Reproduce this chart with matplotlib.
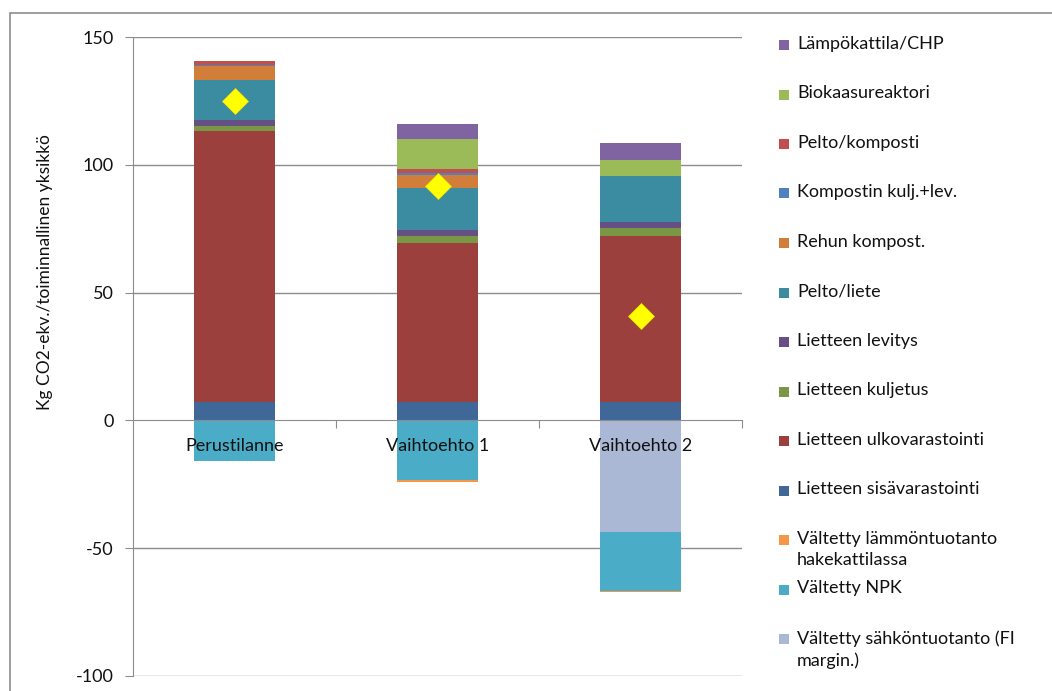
import numpy as np
import matplotlib
matplotlib.use("Agg")
import matplotlib.pyplot as plt
from matplotlib.patches import Rectangle

plt.rcParams['font.family'] = ['Lato', 'DejaVu Sans']
plt.rcParams['axes.unicode_minus'] = False

categories = ["Perustilanne", "Vaihtoehto 1", "Vaihtoehto 2"]

# series in stacking order (first = closest to zero)
series_names = [
    "Vältetty sähköntuotanto (FI\nmargin.)",
    "Vältetty NPK",
    "Vältetty lämmöntuotanto\nhakekattilassa",
    "Lietteen sisävarastointi",
    "Lietteen ulkovarastointi",
    "Lietteen kuljetus",
    "Lietteen levitys",
    "Pelto/liete",
    "Rehun kompost.",
    "Kompostin kulj.+lev.",
    "Pelto/komposti",
    "Biokaasureaktori",
    "Lämpökattila/CHP",
]
series_values = [
    [0.0, 0.0, -43.5],
    [-16.0, -23.3, -23.3],
    [0.0, -0.7, -0.5],
    [7.1, 7.1, 7.1],
    [106.0, 62.2, 65.1],
    [1.9, 3.0, 2.9],
    [2.6, 2.1, 2.4],
    [15.7, 16.6, 18.3],
    [5.5, 5.1, 0.0],
    [0.4, 0.6, 0.0],
    [1.5, 1.7, 0.0],
    [0.0, 11.7, 5.9],
    [0.0, 5.7, 6.7],
]
series_colors = [
    "#AAB8D6", "#4AACC6", "#F79646", "#3F6797", "#9B403D", "#7A9745",
    "#664F82", "#3B8BA1", "#D07E3A", "#4F81BD", "#C0504D", "#9BBB59", "#8064A2",
]
net_total = [125.1, 91.8, 40.8]

fig = plt.figure(figsize=(10.52, 6.91), dpi=100)
ax = fig.add_axes([133 / 1052, 1 - 676 / 691, (742 - 133) / 1052, (676 - 37) / 691])

x = np.arange(len(categories))
pos_base = np.zeros(len(categories))
neg_base = np.zeros(len(categories))
for name, vals, col in zip(series_names, series_values, series_colors):
    v = np.array(vals)
    base = np.where(v >= 0, pos_base, neg_base)
    ax.bar(x, v, width=0.4, bottom=base, color=col, linewidth=0, zorder=3)
    pos_base += np.where(v > 0, v, 0)
    neg_base += np.where(v < 0, v, 0)

ax.plot(x, net_total, linestyle="none", marker="D", markersize=13,
        color="#FFFF00", markeredgecolor="#F2E600", markeredgewidth=0.5, zorder=5)

ax.set_xlim(-0.5, 2.5)
ax.set_ylim(-100, 150)
ax.set_yticks([-100, -50, 0, 50, 100, 150])
for yv in [-100, -50, 50, 100, 150]:
    ax.axhline(yv, color="#8C8C8C", lw=1.0, zorder=1)

for s in ["top", "right"]:
    ax.spines[s].set_visible(False)
ax.spines["left"].set_color("#8C8C8C")
ax.spines["bottom"].set_color("#8C8C8C")
ax.spines["bottom"].set_position(("data", 0))
ax.spines["bottom"].set_zorder(4)

ax.tick_params(axis="y", direction="out", length=6, color="#8C8C8C",
               labelsize=13, pad=8, labelcolor="#111111")
ax.set_xticks([0.5, 1.5, 2.5])
ax.set_xticklabels([])
ax.tick_params(axis="x", which="major", direction="out", length=6, color="#8C8C8C")

# category labels sit just under the zero line, on top of the bars
for xi, cat in zip(x, categories):
    ax.annotate(cat, (xi, 0), xytext=(0, -13), textcoords="offset points",
                ha="center", va="top", fontsize=13, color="#111111", zorder=6)

fig.text(45 / 1052, 1 - 272 / 691, "Kg CO2-ekv./toiminnallinen yksikkö",
         rotation=90, ha="center", va="center", fontsize=12.5, color="#111111")

# legend, top to bottom in reverse series order
leg_y0, leg_dy = 45, 49.5
for i, (name, col) in enumerate(zip(series_names[::-1], series_colors[::-1])):
    yc = leg_y0 + i * leg_dy
    fig.patches.append(Rectangle((779 / 1052, 1 - (yc + 5) / 691), 10 / 1052, 10 / 691,
                                 transform=fig.transFigure, color=col, lw=0))
    fig.text(797 / 1052, 1 - (yc - 9) / 691, name, ha="left", va="top",
             fontsize=13, color="#111111", linespacing=1.4)

# outer chart frame
fig.patches.append(Rectangle((10 / 1052, -0.05), 1.1, 1 - 13 / 691 + 0.05,
                             transform=fig.transFigure, fill=False,
                             edgecolor="#8C8C8C", lw=1.2))

fig.savefig("out.png", dpi=100)
